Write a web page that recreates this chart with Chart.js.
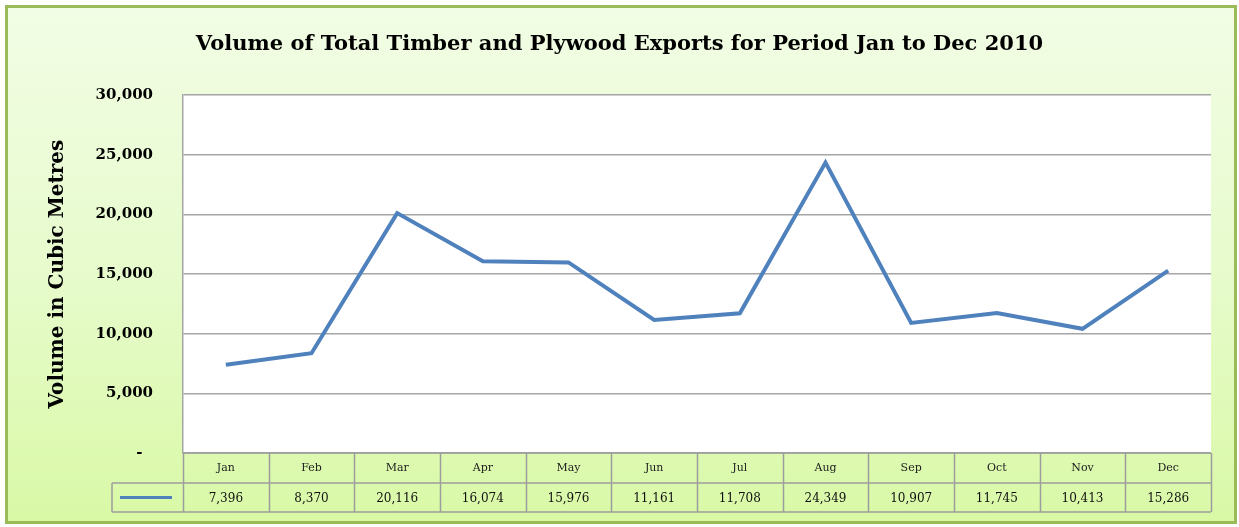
<!DOCTYPE html>
<html>
<head>
<meta charset="utf-8">
<script src="https://cdn.jsdelivr.net/npm/chart.js@4"></script>
<style>
  html, body { margin: 0; padding: 0; background: #fff; }
  #wrap { width: 1239px; height: 527px; }
</style>
</head>
<body>
<div id="wrap"><canvas id="myChart" width="1239" height="527"></canvas></div>
<script>
// data
const months = ['Jan', 'Feb', 'Mar', 'Apr', 'May', 'Jun', 'Jul', 'Aug', 'Sep', 'Oct', 'Nov', 'Dec'];
const volumes = [7396, 8370, 20116, 16074, 15976, 11161, 11708, 24349, 10907, 11745, 10413, 15286];
const yTicks = [0, 5000, 10000, 15000, 20000, 25000, 30000];

const lineColor = '#4f81bd';
const gridColor = '#a6a6a6';
const tableColor = '#9d9d9d';
const serif = 'DejaVu Serif';

function fmt(v) {
    return v.toLocaleString('en-US');
}

// green panel + white plot area
const backdrop = {
    id: 'backdrop',
    beforeDraw(chart) {
        const c = chart.ctx;
        const a = chart.chartArea;
        c.save();
        const g = c.createLinearGradient(0, 6, 0, 523);
        g.addColorStop(0, '#f2fde5');
        g.addColorStop(0.5, '#e7fbcd');
        g.addColorStop(1, '#d9f9a6');
        c.fillStyle = g;
        c.fillRect(6, 6, 1231, 518);
        c.strokeStyle = '#9bbb59';
        c.lineWidth = 3;
        c.strokeRect(6.5, 6.5, 1229, 516);
        c.fillStyle = '#ffffff';
        c.fillRect(a.left, a.top, a.right - a.left, a.bottom - a.top);
        c.restore();
    }
};

// data table under the plot
const dataTable = {
    id: 'dataTable',
    afterDraw(chart) {
        const c = chart.ctx;
        const a = chart.chartArea;
        const x = chart.scales.x;
        const colW = x.getPixelForValue(1) - x.getPixelForValue(0);
        const r0 = a.bottom, r1 = a.bottom + 30, r2 = a.bottom + 59;
        const legL = 112;
        c.save();
        c.strokeStyle = tableColor;
        c.lineWidth = 1.5;
        c.beginPath();
        c.moveTo(a.left, r0); c.lineTo(a.right, r0);
        c.moveTo(legL, r1); c.lineTo(a.right, r1);
        c.moveTo(legL, r2); c.lineTo(a.right, r2);
        c.moveTo(legL, r1); c.lineTo(legL, r2);
        for (let i = 0; i <= months.length; i++) {
            const px = Math.round(x.getPixelForValue(i) - colW / 2) + 0.5;
            c.moveTo(px, r0); c.lineTo(px, r2);
        }
        c.stroke();

        // legend key
        c.strokeStyle = lineColor;
        c.lineWidth = 3;
        c.beginPath();
        c.moveTo(legL + 8, (r1 + r2) / 2);
        c.lineTo(a.left - 11, (r1 + r2) / 2);
        c.stroke();

        c.fillStyle = '#111';
        c.font = '12px "' + serif + '"';
        c.textAlign = 'center';
        c.textBaseline = 'middle';
        volumes.forEach((v, i) => {
            c.fillText(fmt(v), x.getPixelForValue(i), (r1 + r2) / 2 + 1);
        });
        c.restore();
    }
};

const ctx = document.getElementById('myChart');
const myChart = new Chart(ctx, {
    type: 'line',
    data: {
        labels: months,
        datasets: [{
            label: 'Volume',
            data: volumes,
            borderColor: lineColor,
            backgroundColor: lineColor,
            borderWidth: 4,
            pointRadius: 0,
            tension: 0
        }]
    },
    options: {
        responsive: false,
        animation: false,
        layout: { padding: { top: 5, left: 0, right: 0, bottom: 0 } },
        plugins: {
            legend: { display: false },
            tooltip: { enabled: false },
            title: {
                display: true,
                text: 'Volume of Total Timber and Plywood Exports for Period Jan to Dec 2010',
                color: '#000',
                font: { family: serif, size: 21, weight: 'bold' },
                padding: { top: 27, bottom: 38 }
            }
        },
        scales: {
            x: {
                offset: true,
                grid: { display: false, drawTicks: false },
                border: { display: false },
                ticks: {
                    color: '#222',
                    padding: 9,
                    maxRotation: 0,
                    autoSkip: false,
                    font: { family: serif, size: 11 }
                },
                afterFit(scale) { scale.height = 74; }
            },
            y: {
                min: 0,
                max: 30000,
                afterBuildTicks(scale) {
                    scale.ticks = yTicks.map(v => ({ value: v }));
                },
                grid: { color: gridColor, lineWidth: 1.5, drawTicks: false },
                border: { display: true, color: gridColor, width: 1.5 },
                ticks: {
                    color: '#000',
                    padding: 30,
                    font: { family: serif, size: 15, weight: 'bold' },
                    callback: v => v === 0 ? '-  ' : fmt(v)
                },
                title: {
                    display: true,
                    text: 'Volume in Cubic Metres',
                    color: '#000',
                    font: { family: serif, size: 20, weight: 'bold' },
                    padding: { top: 46, bottom: 0 }
                },
                afterFit(scale) { scale.width = 183; }
            },
            // empty right margin so the title centres on the whole panel
            yRight: {
                position: 'right',
                grid: { display: false, drawTicks: false },
                border: { display: false },
                ticks: { display: false },
                afterFit(scale) { scale.width = 28; }
            }
        }
    },
    plugins: [backdrop, dataTable]
});
</script>
</body>
</html>
